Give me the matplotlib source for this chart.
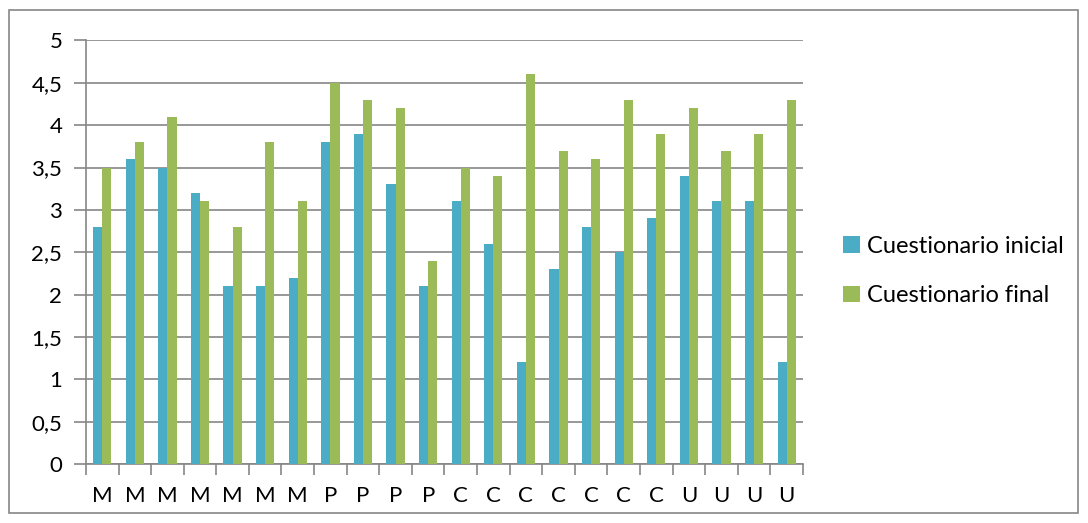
import numpy as np
import matplotlib.pyplot as plt
from matplotlib.patches import Rectangle

labels = ['M', 'M', 'M', 'M', 'M', 'M', 'M', 'P', 'P', 'P', 'P',
          'C', 'C', 'C', 'C', 'C', 'C', 'C', 'U', 'U', 'U', 'U']
inicial = [2.8, 3.6, 3.5, 3.2, 2.1, 2.1, 2.2, 3.8, 3.9, 3.3, 2.1,
           3.1, 2.6, 1.2, 2.3, 2.8, 2.5, 2.9, 3.4, 3.1, 3.1, 1.2]
final = [3.5, 3.8, 4.1, 3.1, 2.8, 3.8, 3.1, 4.5, 4.3, 4.2, 2.4,
         3.5, 3.4, 4.6, 3.7, 3.6, 4.3, 3.9, 4.2, 3.7, 3.9, 4.3]
yticks = [0, 0.5, 1, 1.5, 2, 2.5, 3, 3.5, 4, 4.5, 5]
ytick_labels = ['0', '0,5', '1', '1,5', '2', '2,5', '3', '3,5', '4', '4,5', '5']

plt.rcParams['font.family'] = ['Lato', 'DejaVu Sans']
grey = '#868686'

fig = plt.figure(figsize=(10.88, 5.23), dpi=100)
ax = fig.add_axes([0.079, 0.1128, 0.659, 0.8098])

x = np.arange(len(labels))
w = 0.28
ax.bar(x - w / 2, inicial, w, color='#4BACC6', label='Cuestionario inicial', zorder=3)
ax.bar(x + w / 2, final, w, color='#9BBB59', label='Cuestionario final', zorder=3)

ax.set_xlim(-0.5, len(labels) - 0.5)
ax.set_ylim(0, 5)
ax.set_yticks(yticks)
ax.set_yticklabels(ytick_labels)
ax.set_xticks(x)
ax.set_xticklabels(labels)
ax.set_xticks(np.arange(-0.5, len(labels), 1), minor=True)

ax.yaxis.grid(True, color=grey, linewidth=1.2, zorder=0)
for s in ['top', 'right']:
    ax.spines[s].set_visible(False)
for s in ['left', 'bottom']:
    ax.spines[s].set_color(grey)
    ax.spines[s].set_linewidth(1.2)

ax.tick_params(axis='y', length=9, color=grey, width=1.2, labelsize=16, pad=8)
ax.tick_params(axis='x', which='major', length=0, labelsize=16, pad=16)
ax.tick_params(axis='x', which='minor', length=8, color=grey, width=1.2)

fig.legend(loc='center left', bbox_to_anchor=(843 / 1088, 1 - 271 / 523),
           frameon=False, fontsize=17, handlelength=0.7, handleheight=0.7,
           handletextpad=0.3, labelspacing=1.2, borderaxespad=0, borderpad=0)

fig.patches.append(Rectangle((9 / 1088, 10 / 523), 1069 / 1088, 503 / 523,
                             transform=fig.transFigure, fill=False,
                             edgecolor=grey, linewidth=1.2))

fig.savefig('out.png', dpi=100)
